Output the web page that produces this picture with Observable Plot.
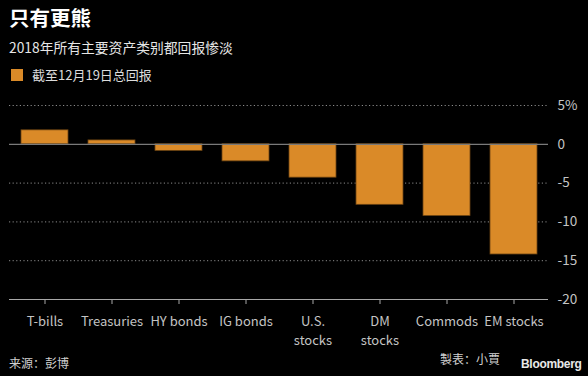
<!DOCTYPE html>
<html><head><meta charset="utf-8">
<script src="https://cdn.jsdelivr.net/npm/d3@7"></script>
<script src="https://cdn.jsdelivr.net/npm/@observablehq/plot@0.6"></script>
<style>
html,body{margin:0;padding:0;background:#000;}
#wrap{position:relative;width:588px;height:376px;background:#000;overflow:hidden;font-family:"Noto Sans CJK SC","Noto Sans",sans-serif;color:#fff;}
#head{position:relative;height:95px;}
.title{position:absolute;left:9px;top:4px;font-size:20.5px;font-weight:bold;color:#fff;line-height:26px;}
.sub{position:absolute;left:9px;top:37px;font-size:13.8px;color:#e6e6e6;line-height:20px;}
.leg{position:absolute;left:11px;top:66px;font-size:13px;color:#dcdcdc;line-height:18px;display:flex;align-items:center;}
.sw{display:inline-block;width:12px;height:12px;background:#da8a28;margin-right:9px;}
#chart{position:relative;height:256px;}
#foot{position:relative;height:25px;}
.src{position:absolute;left:9px;top:3px;font-size:12px;color:#d0d0d0;}
.mk{position:absolute;left:440px;top:-1px;font-size:12px;color:#d0d0d0;}
.bb{position:absolute;left:521px;top:6px;font-size:12px;font-weight:bold;color:#e8e8e8;font-family:"Liberation Sans",Arial,sans-serif;letter-spacing:-0.3px;}
</style></head>
<body>
<div id="wrap">
  <div id="head">
    <div class="title">只有更熊</div>
    <div class="sub">2018年所有主要资产类别都回报惨淡</div>
    <div class="leg"><span class="sw"></span>截至12月19日总回报</div>
  </div>
  <div id="chart"></div>
  <div id="foot">
    <div class="src">来源：彭博</div>
    <div class="mk">製表：小賈</div>
    <div class="bb">Bloomberg</div>
  </div>
</div>
<script>
const categories = ["T-bills","Treasuries","HY bonds","IG bonds","U.S. stocks","DM stocks","Commods","EM stocks"];
const tickLabels = ["T-bills","Treasuries","HY bonds","IG bonds","U.S.\nstocks","DM\nstocks","Commods","EM stocks"];
const returns = [1.8, 0.5, -0.85, -2.2, -4.3, -7.8, -9.25, -14.2];
const yTicks = [5, 0, -5, -10, -15, -20];
const gridTicks = [5, -5, -10, -15];

const data = categories.map((c, i) => ({cat: c, value: returns[i]}));
const labelMap = new Map(categories.map((c, i) => [c, tickLabels[i]]));

const chart = Plot.plot({
  width: 588,
  height: 256,
  marginTop: 10,
  marginBottom: 52,
  marginLeft: 9,
  marginRight: 40,
  style: {background: "#000", color: "#bdbdbd", fontFamily: "'Noto Sans CJK SC','Noto Sans',sans-serif", fontSize: "13px"},
  x: {domain: categories, paddingInner: 0.3, paddingOuter: 0.15, label: null},
  y: {domain: [-20, 5], label: null},
  marks: [
    Plot.ruleY(gridTicks, {stroke: "#8a8a8a", strokeDasharray: "1.2,2.4", strokeWidth: 1}),
    Plot.barY(data, {x: "cat", y: "value", fill: "#da8a28", stroke: "#6b4312", strokeWidth: 0.8}),
    Plot.ruleY([0], {stroke: "#7a7a7a", strokeWidth: 1.3}),
    Plot.ruleY([-20], {stroke: "#a8a8a8", strokeWidth: 1.2}),
    Plot.axisX({anchor: "bottom", tickSize: 5, tickPadding: 8, stroke: "#a8a8a8", tickFormat: d => labelMap.get(d), fill: "#c4c4c4", fontSize: 13, lineHeight: 1.45}),
    Plot.axisY({anchor: "right", ticks: yTicks, tickSize: 0, tickPadding: 9, tickFormat: d => d === 5 ? "5%" : String(d), fill: "#c4c4c4", fontSize: 13.5})
  ]
});
document.getElementById("chart").appendChild(chart);
</script>
</body></html>
